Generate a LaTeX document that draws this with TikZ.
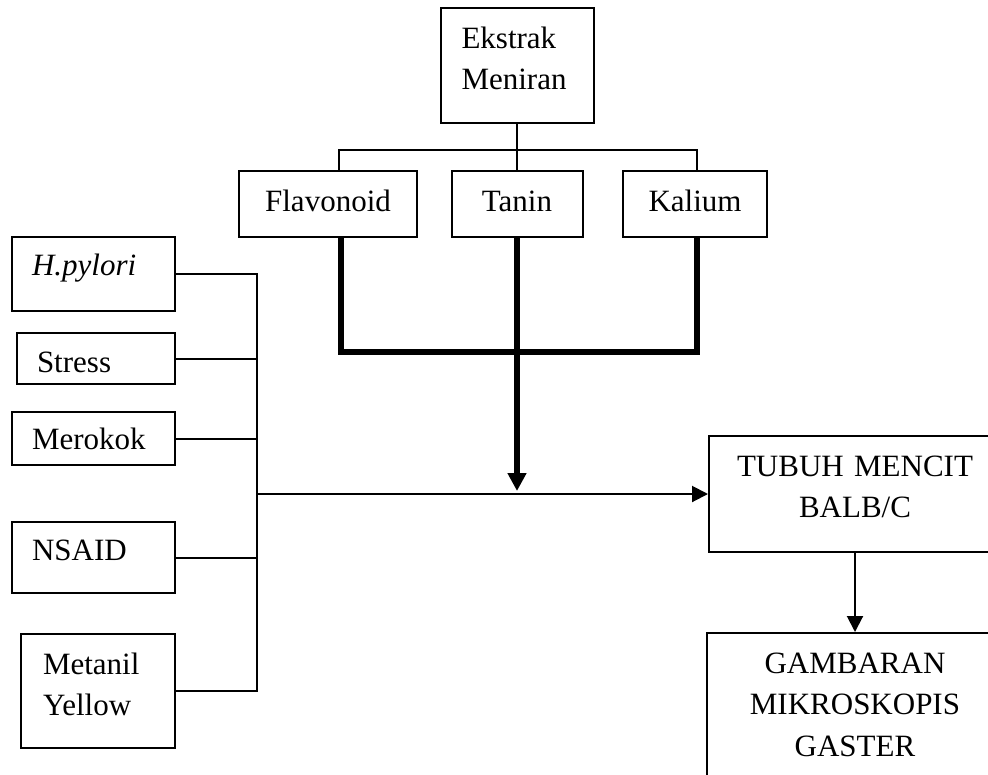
\documentclass[tikz,border=0pt]{standalone}
\usepackage{fontspec}
\setmainfont{Liberation Serif}
\usetikzlibrary{arrows.meta}

\begin{document}
\begin{tikzpicture}[x=1pt, y=-1pt,
  font=\fontsize{31}{41.5}\selectfont,
  box/.style={draw, line width=2pt, inner sep=0pt},
  lbox/.style={box, align=left, inner xsep=20pt},
  cbox/.style={box, align=center},
  link/.style={line width=2pt},
  heavy/.style={line width=6pt},
  tip/.style={-{Triangle[length=16pt,width=16pt]}}]
\useasboundingbox (0,0) rectangle (988,774);
\clip (0,0) rectangle (988,774);
%top
\node[lbox, inner xsep=21pt, text width=111pt, minimum width=153pt, minimum height=115pt, text height=21pt, text depth=56pt] (ekstrak) at (517,65.5) {Ekstrak\\Meniran};
\node[cbox, text width=178pt, minimum height=66pt, text height=21pt, text depth=7pt] (flavonoid) at (328,204) {Flavonoid};
\node[cbox, text width=131pt, minimum height=66pt, text height=21pt, text depth=7pt] (tanin) at (517,204) {Tanin};
\node[cbox, text width=144pt, minimum height=66pt, text height=21pt, text depth=7pt] (kalium) at (695,204) {Kalium};
%left
\node[lbox, text width=123pt, minimum height=74pt, text height=21pt, text depth=19pt] (hpylori) at (93.5,274) {\textit{H.pylori}};
\node[lbox, text width=118pt, minimum height=51pt, text height=27pt, text depth=0pt] (stress) at (96,358.5) {Stress};
\node[lbox, text width=123pt, minimum height=53pt, text height=21pt, text depth=0pt] (merokok) at (93.5,438.5) {Merokok};
\node[lbox, text width=123pt, minimum height=71pt, text height=21pt, text depth=16pt] (nsaid) at (93.5,557.5) {NSAID};
\node[lbox, inner xsep=22pt, text width=110pt, minimum height=114pt, text height=21pt, text depth=55pt] (metanil) at (98,691) {Metanil\\Yellow};
%right
\node[cbox, text width=292pt, minimum height=116pt, text height=21pt, text depth=57pt] (tubuh) at (855,494) {TUBUH MENCIT\\BALB/C};
\node[cbox, text width=296pt, minimum height=157pt, text height=21pt, text depth=98pt] (gambaran) at (855,711.5) {GAMBARAN\\MIKROSKOPIS\\GASTER};

\coordinate (fork) at (517,150);
\coordinate (fl) at (339,150);
\coordinate (ka) at (697,150);
\draw[link] (ekstrak.south) -- (fork);
\draw[link] (fl |- flavonoid.north) -- (fl) -- (ka) -- (ka |- kalium.north);
\draw[link] (fork) -- (tanin.north);

\coordinate (jl) at (341,352);
\coordinate (jr) at (697,352);
\draw[heavy] (jl |- flavonoid.south) -- (jl) -- (jr) -- (jr |- kalium.south);
\draw[heavy, -{Triangle[length=18pt,width=18pt]}, shorten >=3pt] (tanin.south) -- (tanin.south |- tubuh.west);

\coordinate (bus) at (257,0);
\draw[link] (hpylori.east) -- (hpylori.east -| bus) -- (metanil.east -| bus) -- (metanil.east);
\foreach \n in {stress,merokok,nsaid}
  \draw[link] (\n.east) -- (\n.east -| bus);
\draw[link, tip] (tubuh.west -| bus) -- (tubuh.west);
\draw[link, tip] (tubuh.south) -- (gambaran.north);
\end{tikzpicture}
\end{document}
